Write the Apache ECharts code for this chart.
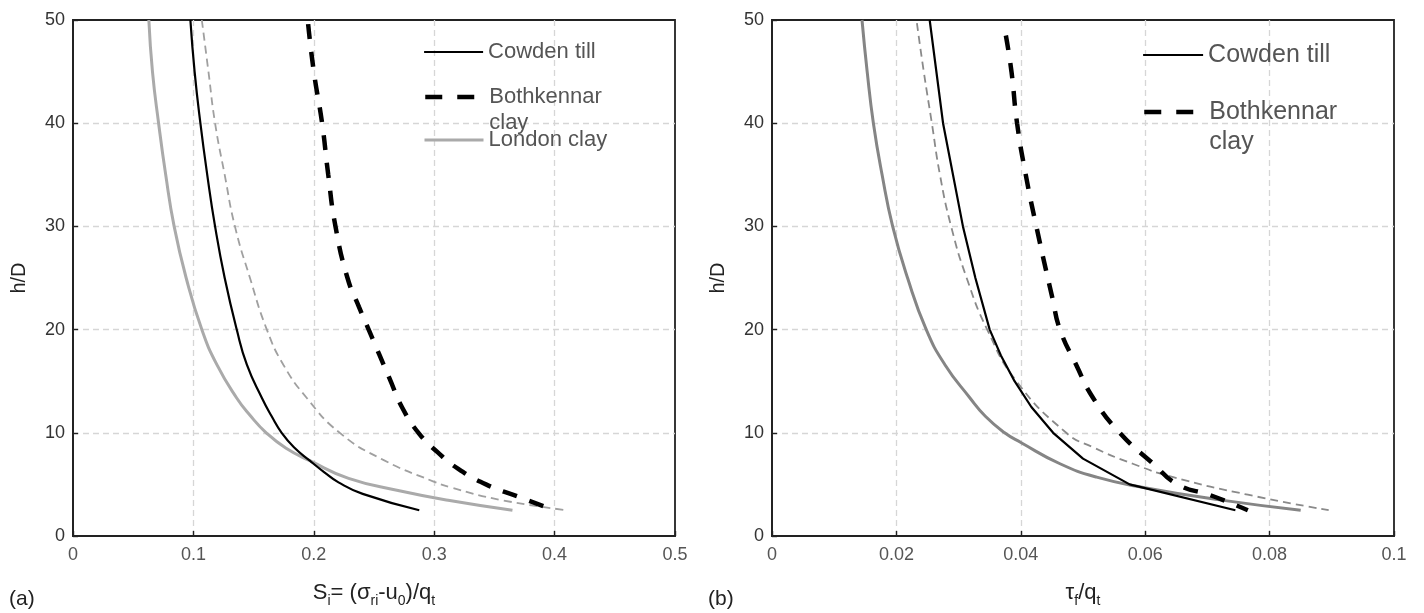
<!DOCTYPE html>
<html>
<head>
<meta charset="utf-8">
<script src="https://cdn.jsdelivr.net/npm/echarts@6/dist/echarts.min.js"></script>
<style>html,body{margin:0;padding:0;background:#fff}#c{width:1424px;height:613px}</style>
</head>
<body>
<div id="c"></div>
<script>
// ---------- data (x value, h/D) ----------
// Panel (a): S_i = (σri - u0)/qt
const cowdenA = [[0.0975,50],[0.101,45],[0.1058,40],[0.1115,35],[0.118,30],[0.126,25],[0.136,20],[0.1444,16.6],[0.1568,13.4],[0.165,11.6],[0.1733,10],[0.1835,8.6],[0.1967,7.3],[0.2085,6.2],[0.2205,5.2],[0.2406,4.08],[0.2876,2.5]];
const bothkennarA = [[0.1953,49.6],[0.2,45],[0.2069,40],[0.212,35],[0.218,30],[0.228,25],[0.2375,22.2],[0.2463,19.8],[0.2628,15.3],[0.2736,12.4],[0.2876,9.9],[0.303,8.1],[0.32,6.5],[0.343,5],[0.37,3.8],[0.40,2.5]];
const londonA = [[0.063,50],[0.066,45],[0.0711,40],[0.077,35],[0.084,30],[0.094,25],[0.107,20],[0.1195,16.6],[0.1358,13.4],[0.147,11.7],[0.1605,10],[0.177,8.5],[0.1967,7.3],[0.2289,5.59],[0.271,4.39],[0.3116,3.47],[0.365,2.5]];
const extraA = [[0.107,50],[0.1125,45],[0.118,40],[0.126,35],[0.1345,30],[0.147,25],[0.161,20],[0.1747,16.6],[0.194,13.4],[0.2215,10],[0.2573,7.4],[0.299,5.3],[0.314,4.7],[0.355,3.5],[0.41,2.5]];
// Panel (b): τf/qt
const cowdenB = [[0.02535,50],[0.0275,40],[0.0307,30],[0.0327,25],[0.035,20],[0.0368,17.5],[0.039,15],[0.0417,12.5],[0.0452,10],[0.05,7.5],[0.0575,5],[0.0745,2.5]];
const bothkennarB = [[0.0376,48.5],[0.0385,45],[0.0394,40],[0.0408,35],[0.0425,30],[0.0451,23],[0.0463,20],[0.0489,16.6],[0.0516,13.4],[0.0559,10],[0.0613,7],[0.0652,5],[0.0705,3.95],[0.0765,2.5]];
const londonB = [[0.01447,50],[0.0153,45],[0.0163,40],[0.0177,35],[0.0194,30],[0.0218,25],[0.0248,20],[0.0278,16.6],[0.0318,13.4],[0.0343,11.6],[0.0374,10],[0.04,9.06],[0.0463,7],[0.0522,5.7],[0.0597,4.7],[0.072,3.5],[0.085,2.5]];
const extraB = [[0.0233,49.7],[0.0244,45],[0.0257,40],[0.027,35],[0.0288,30],[0.0313,25],[0.0346,20],[0.0393,15],[0.0473,10],[0.0516,8.6],[0.058,7],[0.0645,5.7],[0.0765,4],[0.0895,2.5]];

const xTicksA = {min: 0, max: 0.5, interval: 0.1};
const xTicksB = {min: 0, max: 0.1, interval: 0.02};
const yTicks = {min: 0, max: 50, interval: 10};
const xNameA = '{m|S}{s|i}{m|= (σ}{s|ri}{m|-u}{s|0}{m|)/q}{s|t}';
const xNameB = '{m|τ}{s|f}{m|/q}{s|t}';
const yName = 'h/D';
const panelLabels = ['(a)', '(b)'];
const legendA = ['Cowden till', 'Bothkennar clay', 'London clay'];
const legendB = ['Cowden till', 'Bothkennar clay'];

// ---------- chart ----------
const FONT = 'Liberation Sans, Arial, sans-serif';
const chart = echarts.init(document.getElementById('c'), null, {renderer: 'canvas'});
const rich = {
  m: {fontSize: 22, lineHeight: 30, verticalAlign: 'middle', color: '#222', fontFamily: FONT},
  s: {fontSize: 14, lineHeight: 14, verticalAlign: 'bottom', color: '#222', fontFamily: FONT}
};
const gridLine = {show: true, showMinLine: false, showMaxLine: false,
  lineStyle: {type: [6, 4], color: '#d6d6d6', width: 1.3}};
function xAxis(idx, t, name) {
  return {
    type: 'value', gridIndex: idx, min: t.min, max: t.max, interval: t.interval,
    name: name, nameLocation: 'middle', nameGap: 42,
    nameTextStyle: {rich: rich},
    axisLine: {show: true, lineStyle: {color: '#222', width: 1.8}},
    axisTick: {show: true, inside: true, length: 5, lineStyle: {color: '#222', width: 1.4}},
    axisLabel: {fontSize: 18, color: '#555', margin: 10, fontFamily: FONT},
    splitLine: gridLine
  };
}
function yAxis(idx) {
  return {
    type: 'value', gridIndex: idx, min: yTicks.min, max: yTicks.max, interval: yTicks.interval,
    name: yName, nameLocation: 'middle', nameGap: 44, nameRotate: 90,
    nameTextStyle: {fontSize: 20, color: '#222', fontFamily: FONT},
    axisLine: {show: true, lineStyle: {color: '#222', width: 1.8}},
    axisTick: {show: true, inside: true, length: 5, lineStyle: {color: '#222', width: 1.4}},
    axisLabel: {fontSize: 18, color: '#333', margin: 8, fontFamily: FONT},
    splitLine: gridLine
  };
}
function line(name, data, idx, style, smooth) {
  return {
    name: name, type: 'line', xAxisIndex: idx, yAxisIndex: idx, data: data,
    symbol: 'none', smooth: smooth, animation: false, lineStyle: style,
    itemStyle: {color: style.color}, z: 3
  };
}
const sCowden = {color: '#000', width: 2.2};
const sBoth = {color: '#000', width: 4.5, type: [15, 13]};
const sLondonA = {color: '#aaaaaa', width: 3};
const sLondonB = {color: '#858585', width: 3};
const sExtraA = {color: '#a0a0a0', width: 1.8, type: [8, 5]};
const sExtraB = {color: '#8a8a8a', width: 1.8, type: [8, 5]};

const legendText = {fontFamily: FONT, color: '#555'};
function legend(name, left, top, w, fs, lh, lineStyle, twoLine) {
  const l = {
    data: [name], left: left, top: top, padding: 0, itemWidth: w, itemHeight: 14,
    selectedMode: false, itemStyle: {opacity: 0}, lineStyle: lineStyle,
    textStyle: Object.assign({fontSize: fs, lineHeight: lh}, legendText)
  };
  if (twoLine) l.formatter = function (n) { return ' \n' + n.replace(' ', '\n'); };
  return l;
}
const option = {
  backgroundColor: '#fff',
  animation: false,
  grid: [
    {left: 73, top: 20, width: 602, height: 519, show: true, borderColor: '#222', borderWidth: 1.8, backgroundColor: 'transparent'},
    {left: 772, top: 20, width: 622, height: 519, show: true, borderColor: '#222', borderWidth: 1.8, backgroundColor: 'transparent'}
  ],
  xAxis: [xAxis(0, xTicksA, xNameA), xAxis(1, xTicksB, xNameB)],
  yAxis: [yAxis(0), yAxis(1)],
  legend: [
    legend(legendA[0], 423, 39, 59, 22, 26, {width: 2.2}, false),
    legend(legendA[1], 423, 58, 59, 22, 26, {width: 4.5, type: [17, 15]}, true),
    legend(legendA[2], 423, 127, 59, 22, 26, {width: 3}, false),
    legend(legendB[0], 1142, 40, 60, 25, 30, {width: 2.2}, false),
    legend(legendB[1], 1142, 67, 60, 25, 30, {width: 4.5, type: [17, 15]}, true)
  ],
  graphic: [
    {type: 'text', left: 9, top: 589, style: {text: panelLabels[0], fontSize: 21, fill: '#222', fontFamily: FONT}},
    {type: 'text', left: 708, top: 589, style: {text: panelLabels[1], fontSize: 21, fill: '#222', fontFamily: FONT}}
  ],
  series: [
    line('London clay', londonA, 0, sLondonA, 0.5),
    line('Thin dashed (a)', extraA, 0, sExtraA, 0.5),
    line('Cowden till', cowdenA, 0, sCowden, 0.5),
    line('Bothkennar clay', bothkennarA, 0, sBoth, 0.5),
    line('London clay', londonB, 1, sLondonB, 0.5),
    line('Thin dashed (b)', extraB, 1, sExtraB, 0.5),
    line('Cowden till', cowdenB, 1, sCowden, false),
    line('Bothkennar clay', bothkennarB, 1, sBoth, 0.5)
  ]
};
chart.setOption(option);
</script>
</body>
</html>
